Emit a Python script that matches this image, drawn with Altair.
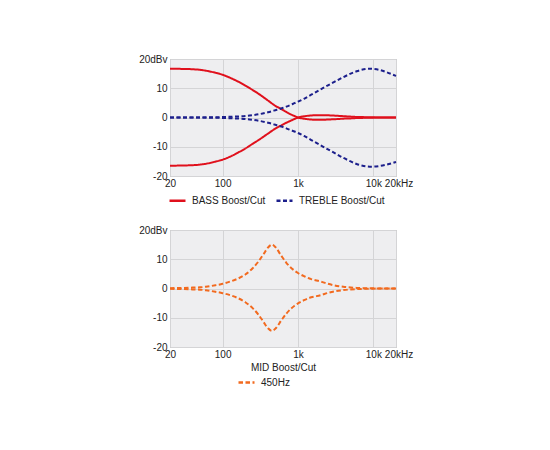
import altair as alt
import pandas as pd

# frequencies (Hz) of the sampled points
FREQ_TOP = [20, 30, 40, 50, 60, 80, 100, 130, 160, 200, 250, 300, 400, 500,
            600, 700, 800, 900, 1000, 1200, 1500, 2000, 2500, 3000, 4000,
            5000, 6000, 7000, 8000, 9000, 10000, 12000, 15000, 20000]

BASS_BOOST = [16.7, 16.6, 16.5, 16.3, 16.0, 15.3, 14.6, 13.4, 12.3, 10.9, 9.4,
              8.1, 5.8, 4.0, 2.9, 1.9, 1.1, 0.5, 0.0, -0.4, -0.7, -0.8, -0.7,
              -0.6, -0.4, -0.3, -0.2, -0.15, -0.1, -0.1, -0.05, 0.0, 0.0, 0.0]
BASS_CUT = [-16.5, -16.4, -16.3, -16.1, -15.8, -15.1, -14.4, -13.2, -12.0,
            -10.6, -9.0, -7.7, -5.5, -3.8, -2.7, -1.8, -1.1, -0.5, 0.0, 0.4,
            0.7, 0.8, 0.75, 0.65, 0.45, 0.3, 0.2, 0.15, 0.1, 0.08, 0.05, 0.0,
            0.0, 0.0]
TREBLE_BOOST = [0.0, 0.0, 0.0, 0.0, 0.05, 0.1, 0.15, 0.25, 0.35, 0.5, 0.8, 1.1,
                1.8, 2.5, 3.1, 3.7, 4.3, 4.9, 5.4, 6.4, 7.8, 9.6, 11.0, 12.1,
                13.8, 15.0, 15.8, 16.3, 16.6, 16.7, 16.6, 16.3, 15.5, 14.2]
TREBLE_CUT = [0.0, 0.0, 0.0, 0.0, -0.05, -0.1, -0.15, -0.25, -0.35, -0.5, -0.8,
              -1.1, -1.8, -2.5, -3.1, -3.7, -4.3, -4.8, -5.3, -6.3, -7.7, -9.5,
              -10.9, -12.0, -13.8, -15.0, -15.9, -16.4, -16.7, -16.8, -16.8,
              -16.6, -16.1, -15.2]

FREQ_MID = [20, 30, 40, 50, 60, 80, 100, 130, 160, 200, 250, 300, 350, 400,
            450, 500, 600, 700, 800, 900, 1000, 1200, 1500, 2000, 2500, 3000,
            4000, 5000, 6000, 7000, 8000, 10000, 15000, 20000]
MID_BOOST = [0.1, 0.2, 0.3, 0.4, 0.6, 1.1, 1.6, 2.5, 3.4, 4.8, 6.9, 9.3, 11.8,
             14.0, 15.0, 14.2, 11.2, 8.8, 7.2, 6.1, 5.3, 4.2, 3.2, 2.4, 1.6,
             1.1, 0.6, 0.35, 0.2, 0.15, 0.1, 0.05, 0.0, 0.0]
MID_CUT = [-0.1, -0.2, -0.3, -0.4, -0.6, -1.1, -1.6, -2.4, -3.3, -4.7, -6.7,
           -9.0, -11.5, -13.6, -14.5, -13.8, -10.9, -8.6, -7.0, -5.9, -5.1,
           -4.0, -3.0, -2.3, -1.5, -1.0, -0.55, -0.3, -0.2, -0.15, -0.1, -0.05,
           0.0, 0.0]

X_TICKS = [20, 100, 1000, 10000, 20000]
X_LABELS = ["20", "100", "1k", "10k", "20kHz"]
Y_TICKS = [-20, -10, 0, 10, 20]
Y_LABELS = ["-20", "-10", "0", "10", "20dBv"]

FONT = "Liberation Sans"
TEXT = "#222222"


def tidy(freq, series):
    rows = []
    for (band, kind), vals in series.items():
        for f, v in zip(freq, vals):
            rows.append({"freq": f, "db": v, "band": band, "kind": kind})
    return pd.DataFrame(rows)


def label_expr(ticks, labels):
    expr = "datum.label"
    for t, l in zip(ticks, labels):
        expr = f"datum.value == {t} ? '{l}' : ({expr})"
    return expr


def panel(df, bands, colors, dashes, x_title, legend_x, legend_y):
    x = alt.X(
        "freq:Q",
        scale=alt.Scale(type="log", domain=[20, 20000], nice=False),
        axis=alt.Axis(values=X_TICKS, labelExpr=label_expr(X_TICKS, X_LABELS),
                      labelOverlap=False, labelFlush=False, ticks=False,
                      domain=False, labelPadding=2, titlePadding=3,
                      # nudge the last label clear of "10k"
                      labelOffset={"condition": {"test": "datum.value == 20000",
                                                 "value": 2.5},
                                   "value": 0},
                      title=x_title),
    )
    y = alt.Y(
        "db:Q",
        scale=alt.Scale(domain=[-20, 20], nice=False),
        axis=alt.Axis(values=Y_TICKS, labelExpr=label_expr(Y_TICKS, Y_LABELS),
                      labelOverlap=False, labelFlush=False, ticks=False,
                      domain=False, labelPadding=3, title=None),
    )
    legend = alt.Legend(title=None, orient="none", legendX=legend_x,
                        legendY=legend_y, direction="horizontal",
                        symbolType="stroke", symbolSize=256,
                        symbolStrokeWidth=2.5, columnPadding=5, labelOffset=5)
    return alt.Chart(df, width=226, height=117).mark_line(
        strokeWidth=2, interpolate="monotone"
    ).encode(
        x=x,
        y=y,
        color=alt.Color("band:N", scale=alt.Scale(domain=bands, range=colors),
                        legend=legend),
        strokeDash=alt.StrokeDash("band:N",
                                  scale=alt.Scale(domain=bands, range=dashes),
                                  legend=legend),
        detail="kind:N",
    )


top_df = tidy(FREQ_TOP, {
    ("BASS Boost/Cut", "boost"): BASS_BOOST,
    ("BASS Boost/Cut", "cut"): BASS_CUT,
    ("TREBLE Boost/Cut", "boost"): TREBLE_BOOST,
    ("TREBLE Boost/Cut", "cut"): TREBLE_CUT,
})
mid_df = tidy(FREQ_MID, {
    ("450Hz", "boost"): MID_BOOST,
    ("450Hz", "cut"): MID_CUT,
})

top = panel(top_df, ["BASS Boost/Cut", "TREBLE Boost/Cut"],
            ["#e0101c", "#1c1f8c"], [[1, 0], [4, 2.5]], None, -2, 132)
bottom = panel(mid_df, ["450Hz"], ["#f26a1f"], [[4.5, 2.5]],
               "MID Boost/Cut", 67, 143)

chart = alt.vconcat(top, bottom, spacing=17).resolve_scale(
    color="independent", strokeDash="independent"
).resolve_legend(
    color="independent", strokeDash="independent"
).properties(
    padding={"left": 130, "top": 45, "right": 5, "bottom": 5}
).configure_view(
    fill="#eeeef0", stroke="#a8a8a8", strokeWidth=1
).configure_axis(
    labelFont=FONT, labelFontSize=10, labelColor=TEXT,
    titleFont=FONT, titleFontSize=10, titleColor=TEXT, titleFontWeight="normal",
    gridColor="#d4d4d6", gridWidth=1,
).configure_legend(
    labelFont=FONT, labelFontSize=10, labelColor=TEXT,
)

chart.save("out.html", embed_options={"renderer": "svg", "actions": False})
